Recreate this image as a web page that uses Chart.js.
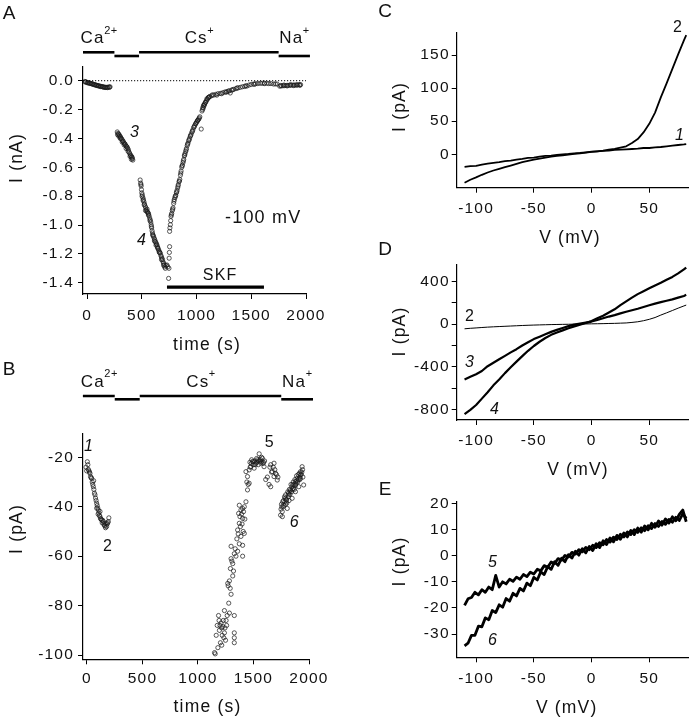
<!DOCTYPE html>
<html>
<head>
<meta charset="utf-8">
<script src="https://cdn.jsdelivr.net/npm/chart.js@4.4.1/dist/chart.umd.min.js"></script>
<style>
  body { margin: 0; background: #fff; width: 692px; height: 720px; position: relative; overflow: hidden; }
  canvas { position: absolute; }
</style>
</head>
<body>
<canvas id="chartA" width="340" height="370" style="left:0;top:0"></canvas>
<canvas id="chartB" width="340" height="365" style="left:0;top:355px"></canvas>
<canvas id="chartC" width="352" height="250" style="left:340px;top:0"></canvas>
<canvas id="chartD" width="352" height="245" style="left:340px;top:240px"></canvas>
<canvas id="chartE" width="352" height="240" style="left:340px;top:480px"></canvas>
<script>
/* ---- data ---- */

// solution changes (time in s), shared by A and B
const solNames = ['Ca', '', 'Cs', 'Na'];
const solCharge = ['2+', '', '+', '+'];
const solStart = [-37, 250, 475, 1750];
const solEnd = [250, 475, 1750, 2036];
const solLabelT = [119, null, 1032, 1900];
const skfStart = 730, skfEnd = 1616;

// A: current at -100 mV (nA) vs time (s)
const aTime = [
  -20,-10,0,10,20,30,40,50,60,70,80,90,100,110,120,130,140,150,160,170,180,190,200,210,
  -15,5,25,45,65,85,105,125,145,165,185,205,
  276,282,288,294,300,306,312,318,324,330,336,342,348,354,360,366,372,378,384,390,396,402,408,414,418,
  279,291,303,321,339,357,375,393,405,411,
  485,490,494,497,500,505,510,515,520,525,531,536,541,546,552,557,561,566,571,577,582,586,590,594,598,
  603,607,612,618,623,628,633,638,643,648,653,658,664,669,674,679,684,689,694,699,704,709,715,722,730,738,
  492,502,512,522,534,548,560,575,588,600,615,630,645,660,680,700,
  745,748,750,752,754,
  754,757,761,764,767,773,779,785,791,797,803,810,816,822,828,834,840,847,853,859,865,871,877,883,889,
  895,901,908,915,922,929,936,943,951,959,967,975,983,991,1000,1007,1014,1021,1030,1043,1050,1055,1061,1068,1075,
  1083,1090,1098,1106,1113,1120,1135,1156,1175,1195,1217,1240,1260,1278,1300,1308,1320,1339,1360,1380,
  1400,1420,1440,1460,1480,1500,1521,1540,1560,1582,1600,1620,1643,1660,1680,1704,1720,1735,
  770,782,794,806,819,831,844,856,868,880,892,905,918,932,946,962,978,995,1010,1025,
  1058,1064,1072,1080,1095,1110,
  1145,1185,1230,1270,1290,1330,1370,1450,1530,1620,
  1760,1775,1790,1805,1820,1835,1850,1865,1880,1895,1910,1925,1940,1950,
  1768,1798,1828,1858,1888,1918,1945
];
const aCurrent = [
  -0.005,-0.008,-0.012,-0.014,-0.016,-0.018,-0.02,-0.022,-0.025,-0.027,-0.03,-0.032,-0.034,-0.036,-0.038,-0.04,-0.041,-0.043,-0.045,-0.046,-0.046,-0.045,-0.044,-0.042,
  -0.01,-0.015,-0.019,-0.023,-0.028,-0.033,-0.037,-0.041,-0.044,-0.047,-0.048,-0.046,
  -0.355,-0.365,-0.37,-0.375,-0.385,-0.39,-0.4,-0.405,-0.415,-0.42,-0.43,-0.435,-0.44,-0.45,-0.455,-0.46,-0.47,-0.48,-0.495,-0.505,-0.515,-0.52,-0.53,-0.54,-0.55,
  -0.375,-0.385,-0.4,-0.425,-0.445,-0.47,-0.49,-0.525,-0.545,-0.53,
  -0.688,-0.71,-0.73,-0.755,-0.777,-0.79,-0.81,-0.823,-0.84,-0.855,-0.87,-0.88,-0.895,-0.905,-0.91,-0.915,-0.921,-0.935,-0.95,-0.963,-0.98,-0.998,-1.02,-1.04,-1.055,
  -1.07,-1.079,-1.09,-1.1,-1.114,-1.12,-1.13,-1.137,-1.15,-1.16,-1.172,-1.18,-1.19,-1.195,-1.21,-1.22,-1.23,-1.24,-1.255,-1.265,-1.275,-1.29,-1.3,-1.28,-1.277,-1.29,
  -0.72,-0.8,-0.83,-0.86,-0.9,-0.89,-0.93,-0.97,-1.01,-1.07,-1.11,-1.14,-1.16,-1.19,-1.24,-1.28,
  -1.37,-1.3,-1.23,-1.19,-1.15,
  -1.044,-1.02,-0.998,-0.97,-0.94,-0.92,-0.9,-0.881,-0.85,-0.823,-0.81,-0.795,-0.777,-0.76,-0.742,-0.72,-0.70,-0.684,-0.655,-0.626,-0.60,-0.585,-0.567,-0.545,-0.521,
  -0.505,-0.49,-0.47,-0.45,-0.433,-0.416,-0.40,-0.385,-0.37,-0.355,-0.34,-0.323,-0.31,-0.30,-0.288,-0.28,-0.272,-0.265,-0.25,-0.335,-0.21,-0.2,-0.19,-0.175,-0.16,
  -0.149,-0.14,-0.13,-0.12,-0.114,-0.11,-0.105,-0.1,-0.095,-0.09,-0.088,-0.083,-0.078,-0.076,-0.07,-0.085,-0.065,-0.06,-0.055,-0.05,
  -0.046,-0.042,-0.04,-0.037,-0.03,-0.026,-0.023,-0.02,-0.02,-0.018,-0.018,-0.017,-0.018,-0.02,-0.02,-0.023,-0.022,-0.023,
  -0.93,-0.89,-0.835,-0.8,-0.77,-0.73,-0.695,-0.64,-0.59,-0.555,-0.515,-0.48,-0.44,-0.41,-0.38,-0.35,-0.32,-0.295,-0.275,-0.258,
  -0.185,-0.17,-0.165,-0.15,-0.125,-0.115,
  -0.098,-0.1,-0.09,-0.08,-0.072,-0.063,-0.05,-0.035,-0.025,-0.02,
  -0.038,-0.036,-0.035,-0.034,-0.033,-0.032,-0.032,-0.031,-0.03,-0.03,-0.029,-0.028,-0.028,-0.027,
  -0.033,-0.03,-0.036,-0.028,-0.034,-0.031,-0.032
];

// B: current at +80 mV (pA) vs time (s)
const bTime = [
  -9,-3,3,8,12,18,22,27,32,37,42,47,52,57,62,67,72,77,82,87,92,97,102,107,112,
  117,122,127,132,137,142,147,152,157,162,167,172,177,182,187,192,197,87,117,60,100,
  1149,1155,1164,1173,1179,1185,1190,1193,1198,1202,
  1208,1212,1214,1218,1223,1228,1233,1238,1238,1243,
  1248,1253,1258,1263,1268,1272,1277,1283,1283,1290,
  1292,1298,1298,1298,1305,1313,1313,1320,1327,1327,
  1327,1327,1327,1335,1342,1350,1357,1357,1362,1366,
  1372,1372,1372,1378,1382,1387,1387,1392,1397,1402,
  1402,1402,1402,1407,1410,1417,1417,1422,1432,1432,
  1440,1446,1446,1452,1461,1461,1468,1476,1483,1491,
  1498,1506,1512,1521,1528,1536,1543,1551,1558,1565,
  1572,1580,1587,1595,1610,1625,1640,1648,1655,1655,
  1662,1670,1678,1685,1685,1692,1699,1707,1714,1720,
  1470,1480,1500,1515,1530,1545,1560,1575,1590,1600,
  1744,1748,1752,1759,1763,1768,1774,1779,1784,1789,
  1794,1798,1804,1808,1813,1818,1823,1828,1833,1838,
  1843,1848,1853,1858,1863,1868,1873,1878,1878,1883,
  1888,1893,1898,1903,1908,1913,1918,1923,1923,1930,
  1938,1945,1952,
  1755,1770,1786,1800,1815,1830,1845,1860,1875,1890,
  1905,1915,1925,1935,1942,1760,1790,1820,1850,1880
];
const bCurrent = [
  -24,-25.5,-21.8,-23,-24.9,-25.5,-26,-26.5,-27.8,-28.3,-28.5,-30,-31,-31.9,-33,-34.5,-35.2,-36.5,-37.5,-38.6,-39.5,-40.5,-41.3,-42.5,-43.5,
  -44,-44.8,-45,-45.4,-46.5,-45.5,-46,-47,-47.5,-47.8,-48.5,-46.7,-48,-47,-46.5,-46,-44.5,-40.6,-41.9,-29.5,-43,
  -99,-99.5,-92,-88,-97,-84,-86,-90,-88,-95,
  -87,-89,-96,-92,-88.5,-86,-93,-91,-82,-89,
  -94,-86,-88,-84,-71,-72,-79,-83,-70,-73,
  -65,-75.4,-61,-56,-62,-68,-63,-66,-84,-91,
  -93,-95,-59,-57,-60,-53,-58,-49.4,-51,-42.7,
  -55,-46.7,-39.4,-44,-48,-52,-41.3,-43,-47,-60,
  -55.6,-44.7,-40.7,-50,-42,-50.8,-40,-45,-38,-25.8,
  -30,-33.2,-27.8,-31,-30.5,-25.1,-22,-23.8,-21,-21.7,
  -23,-24.4,-21.5,-22.4,-20.5,-21,-23,-18.6,-21.5,-22.4,
  -20,-20.4,-22.5,-23.8,-29,-28,-31,-24,-23,-31.9,
  -26,-25.8,-24,-22.4,-27.8,-25,-26.5,-27,-29.2,-28,
  -24,-22.5,-21.8,-23,-22,-21.5,-20.8,-21.8,-22,-21.5,
  -43.4,-41,-39,-42,-38,-40,-39.4,-36,-38,-35.2,
  -37,-37.3,-40.7,-34,-36,-35.2,-33,-35,-33.2,-31,
  -34,-36.6,-31,-30,-31.2,-33,-29,-29.8,-33.9,-30.5,
  -27.5,-28.5,-30,-27,-31.9,-26.5,-29,-25.8,-28.5,-27,
  -23.8,-28,-31.2,
  -40,-37.5,-36.5,-38.5,-34.5,-34,-32,-32.5,-31.5,-29.5,
  -29,-28,-27,-26,-25,-44,-39,-37.5,-33,-31
];

// C, D: I-V ramps (mV, pA)
const rampV = [-110,-105,-100,-95,-90,-85,-80,-75,-70,-65,-60,-55,-50,-45,-40,-35,-30,-25,-20,-15,-10,-5,0,5,10,15,20,25,30,35,40,45,50,55,60,65,70,75,80,82];
const curve1 = [-19,-18,-17.5,-15.5,-14,-13,-12,-10.5,-9.5,-8,-7,-5.5,-5,-3.5,-2.5,-2,-1,0,0.5,1.5,2,3,4,4.5,5,5.5,6.5,7,7.5,8,8.5,9.5,9.5,10.5,11,12,13,14,15,15.5];
const curve2 = [-43,-38.5,-35,-31,-27.5,-24.5,-22,-19.5,-17,-14.5,-12,-10,-8,-6.5,-5,-3.5,-2.5,-1.5,-0.5,0.5,1.5,2.5,3.5,4.5,5.5,7,8,10,12,17,23,33,46,63,86,107,129,151,172,180];
const curve3 = [-520,-495,-470,-440,-395,-362,-330,-298,-265,-235,-200,-170,-140,-117,-95,-72,-53,-35,-18,-4,6,15,25,40,56,72,86,102,117,131,145,162,178,194,208,221,234,250,266,276];
const curve4 = [-845,-805,-760,-700,-640,-575,-520,-460,-405,-352,-300,-250,-205,-165,-130,-100,-78,-58,-38,-20,-4,12,31,55,80,110,140,180,215,250,283,310,338,365,390,418,445,478,515,533];

// E: noisy ramps 5 and 6
const rampVE = [-110,-107,-104,-101,-98,-95,-92,-89,-86,-83,-80,-77,-74,-71,-68,-65,-62,-59,-56,-53,-50,-47,-44,-41,-38,-35,-32,-29,-26,-23,-20,-17,-14,-11,-8,-5,-2,1,4,7,10,13,16,19,22,25,28,31,34,37,40,43,46,49,52,55,58,61,64,67,70,73,76,79,82];
const curve5 = [-19,-16.5,-16,-14,-15,-13,-14,-12,-13,-7.5,-12,-10,-10.8,-9,-9.8,-8.2,-9,-7.2,-8,-6.3,-7,-5.2,-5.8,-3.8,-4.4,-2.4,-3,-1.1,-1.7,0.1,-0.5,1.3,0.6,2.3,1.5,3.2,2.3,4,3.1,5,4.2,6.2,5.2,7.1,6.2,8.2,7.2,9.1,8.1,10,8.9,10.7,9.6,11.5,10.4,12.3,11.2,13.1,12,13.9,12.8,14.7,13.5,16,14.3];
const curve6 = [-34.5,-33.5,-30.5,-30.5,-27,-27.2,-23.8,-24.5,-21,-21.8,-18.8,-19.7,-16.4,-17.4,-14.4,-15.4,-12.5,-13.5,-10.5,-11.5,-8.3,-9.3,-6.2,-7.2,-4.2,-5.2,-2.3,-3.7,-1,-2.3,0.4,-0.9,1.7,0.2,2.7,1.1,3.5,2,4.6,3.1,5.7,4.3,6.8,5.3,7.8,6.3,8.7,7.2,9.7,8.1,10.6,9,11.4,9.9,12.4,10.9,13.3,11.7,14.1,12.5,14.9,13.4,15.8,17.5,13];

// tick values
const timeTicks = [0, 500, 1000, 1500, 2000];
const aYTicks = [0, -0.2, -0.4, -0.6, -0.8, -1.0, -1.2, -1.4];
const bYTicks = [-20, -40, -60, -80, -100];
const vTicks = [-100, -50, 0, 50];
const cYTicks = [0, 50, 100, 150];
const dYTicks = [-800, -600, -400, -200, 0, 200, 400];
const eYTicks = [-30, -20, -10, 0, 10, 20];

/* ---- helpers ---- */
const FONT = '"Liberation Sans", Arial, Helvetica, sans-serif';
const SPACING = '1.2px';
Chart.defaults.font.family = FONT;
Chart.defaults.color = '#111';
Chart.defaults.animation = false;

function zip(xs, ys) { return xs.map((x, i) => ({x: x, y: ys[i]})); }

function txt(ctx, s, x, y, size, opt) {
  opt = opt || {};
  ctx.save();
  ctx.font = (opt.italic ? 'italic ' : '') + size + 'px ' + FONT;
  ctx.letterSpacing = opt.spacing || SPACING;
  ctx.fillStyle = '#111';
  ctx.textAlign = opt.align || 'center';
  ctx.textBaseline = 'middle';
  ctx.translate(x, y);
  if (opt.rot) ctx.rotate(-Math.PI / 2);
  ctx.fillText(s, 0, 0);
  ctx.restore();
}

function axis(min, max, ticks, size, pad, fmt) {
  return {
    type: 'linear', min: min, max: max,
    afterBuildTicks: s => { s.ticks = ticks.map(v => ({value: v})); },
    afterFit: s => { if (s.isHorizontal()) s.height = size; else s.width = size; },
    grid: {drawOnChartArea: false, drawTicks: true, tickLength: 5, color: '#000', lineWidth: 1},
    border: {display: true, color: '#000', width: 1.2},
    ticks: {font: {size: 15.5}, color: '#111', padding: pad, autoSkip: false, maxRotation: 0,
            callback: fmt || (v => v)}
  };
}

function scatterSet(data) {
  return {data: data, showLine: false, pointRadius: 2.1, pointBorderWidth: 0.8,
          pointBorderColor: 'rgba(25,25,25,0.9)', pointBackgroundColor: 'rgba(255,255,255,0)'};
}
function lineSet(data, w) {
  return {data: data, showLine: true, pointRadius: 0, borderColor: '#000', borderWidth: w,
          tension: 0, borderJoinStyle: 'round'};
}

function solutionBars(ctx, x, yHigh, yLow, yLabel) {
  ctx.save();
  ctx.strokeStyle = '#000';
  ctx.lineWidth = 2.6;
  for (let i = 0; i < solStart.length; i++) {
    const yy = (i % 2 === 1) ? yLow : yHigh;
    ctx.beginPath();
    ctx.moveTo(x.getPixelForValue(solStart[i]), yy);
    ctx.lineTo(x.getPixelForValue(solEnd[i]), yy);
    ctx.stroke();
    if (solNames[i]) {
      ctx.letterSpacing = SPACING;
      ctx.font = '17px ' + FONT;
      const wb = ctx.measureText(solNames[i]).width;
      ctx.font = '11px ' + FONT;
      const ws = ctx.measureText(solCharge[i]).width;
      const x0 = x.getPixelForValue(solLabelT[i]) - (wb + ws) / 2;
      txt(ctx, solNames[i], x0, yLabel, 17, {align: 'left'});
      txt(ctx, solCharge[i], x0 + wb - 0.5, yLabel - 8, 11, {align: 'left', spacing: '0.5px'});
    }
  }
  ctx.restore();
}

function makeChart(id, datasets, xAxis, yAxis, padding, draw) {
  return new Chart(document.getElementById(id), {
    type: 'scatter',
    data: {datasets: datasets},
    options: {
      responsive: false,
      layout: {padding: padding},
      scales: {x: xAxis, y: yAxis},
      plugins: {legend: {display: false}, tooltip: {enabled: false}}
    },
    plugins: [{
      id: 'deco',
      beforeDraw: chart => { chart.ctx.letterSpacing = SPACING; },
      afterDraw: chart => draw(chart.ctx, chart.scales.x, chart.scales.y)
    }]
  });
}

/* ---- A ---- */
makeChart('chartA', [scatterSet(zip(aTime, aCurrent))],
  axis(-37, 2000, timeTicks, 76, 7),
  axis(-1.478, 0.095, aYTicks, 83, 4, v => v.toFixed(1)),
  {left: 0, top: 67, right: 34, bottom: 0},
  (ctx, x, y) => {
    ctx.save();
    ctx.strokeStyle = '#000'; ctx.lineWidth = 1; ctx.setLineDash([1.2, 1.8]);
    ctx.beginPath();
    ctx.moveTo(x.left, y.getPixelForValue(0)); ctx.lineTo(x.right, y.getPixelForValue(0));
    ctx.stroke();
    ctx.setLineDash([]); ctx.lineWidth = 3.2;
    ctx.beginPath();
    ctx.moveTo(x.getPixelForValue(skfStart), y.getPixelForValue(-1.43));
    ctx.lineTo(x.getPixelForValue(skfEnd), y.getPixelForValue(-1.43));
    ctx.stroke();
    ctx.restore();
    solutionBars(ctx, x, 52.3, 56, 38.5);
    txt(ctx, 'SKF', x.getPixelForValue(1216), y.getPixelForValue(-1.353), 16);
    txt(ctx, '-100 mV', x.getPixelForValue(1609), y.getPixelForValue(-0.952), 18);
    txt(ctx, '3', x.getPixelForValue(439), y.getPixelForValue(-0.362), 16, {italic: true});
    txt(ctx, '4', x.getPixelForValue(503), y.getPixelForValue(-1.111), 16, {italic: true});
    txt(ctx, 'I (nA)', 17, 158, 17.5, {rot: true});
    txt(ctx, 'time (s)', 207, 345, 17.5);
    txt(ctx, 'A', 9, 14, 19, {spacing: '0px'});
  });

/* ---- B ---- */
makeChart('chartB', [scatterSet(zip(bTime, bCurrent))],
  axis(-36, 2000, timeTicks, 60.7, 4.7),
  axis(-101.7, -10.3, bYTicks, 83, 4),
  {left: 0, top: 78.3, right: 31, bottom: 0},
  (ctx, x, y) => {
    solutionBars(ctx, x, 41, 44.3, 27);
    txt(ctx, '1', x.getPixelForValue(18), y.getPixelForValue(-15.8), 16, {italic: true});
    txt(ctx, '2', x.getPixelForValue(189), y.getPixelForValue(-56.3), 16);
    txt(ctx, '5', x.getPixelForValue(1647), y.getPixelForValue(-14.2), 16);
    txt(ctx, '6', x.getPixelForValue(1872), y.getPixelForValue(-46.2), 16, {italic: true});
    txt(ctx, 'I (pA)', 17, 174, 17.5, {rot: true});
    txt(ctx, 'time (s)', 207.5, 352, 17.5);
    txt(ctx, 'B', 9, 15, 19, {spacing: '0px'});
  });

/* ---- C ---- */
makeChart('chartC', [lineSet(zip(rampV, curve1), 1.8), lineSet(zip(rampV, curve2), 1.8)],
  axis(-116.8, 83.8, vTicks, 62.3, 6.6),
  axis(-50.5, 184.3, cYTicks, 116.7, 2),
  {left: 0, top: 32.3, right: 3.7, bottom: 0},
  (ctx, x, y) => {
    txt(ctx, '2', x.getPixelForValue(74.9), y.getPixelForValue(190.8), 16);
    txt(ctx, '1', x.getPixelForValue(76.6), y.getPixelForValue(29), 16, {italic: true});
    txt(ctx, 'I (pA)', 60, 107, 17.5, {rot: true});
    txt(ctx, 'V (mV)', 230, 238, 17.5);
    txt(ctx, 'C', 45, 12, 19, {spacing: '0px'});
  });

/* ---- D ---- */
makeChart('chartD', [lineSet(zip(rampV, curve2), 1), lineSet(zip(rampV, curve3), 2.2), lineSet(zip(rampV, curve4), 2.2)],
  axis(-116.8, 83.8, vTicks, 65, 6),
  axis(-901, 557, dYTicks, 116.7, 2, v => (v % 400 === 0 ? v : '')),
  {left: 0, top: 25, right: 3.7, bottom: 0},
  (ctx, x, y) => {
    txt(ctx, '2', x.getPixelForValue(-105.2), y.getPixelForValue(68), 16);
    txt(ctx, '3', x.getPixelForValue(-105.2), y.getPixelForValue(-365), 16, {italic: true});
    txt(ctx, '4', x.getPixelForValue(-83.5), y.getPixelForValue(-807), 16, {italic: true});
    txt(ctx, 'I (pA)', 60, 91.5, 17.5, {rot: true});
    txt(ctx, 'V (mV)', 238, 230, 17.5);
    txt(ctx, 'D', 45, 10, 19, {spacing: '0px'});
  });

/* ---- E ---- */
makeChart('chartE', [lineSet(zip(rampVE, curve5), 2.8), lineSet(zip(rampVE, curve6), 2.8)],
  axis(-116.8, 83.8, vTicks, 62.7, 6.7),
  axis(-38.9, 20.57, eYTicks, 116.7, 2),
  {left: 0, top: 22, right: 3.7, bottom: 0},
  (ctx, x, y) => {
    txt(ctx, '5', x.getPixelForValue(-85.3), y.getPixelForValue(-2.8), 16, {italic: true});
    txt(ctx, '6', x.getPixelForValue(-85.3), y.getPixelForValue(-32.3), 16, {italic: true});
    txt(ctx, 'I (pA)', 60, 81.5, 17.5, {rot: true});
    txt(ctx, 'V (mV)', 226.7, 228, 17.5);
    txt(ctx, 'E', 45, 10, 19, {spacing: '0px'});
  });
</script>
</body>
</html>
